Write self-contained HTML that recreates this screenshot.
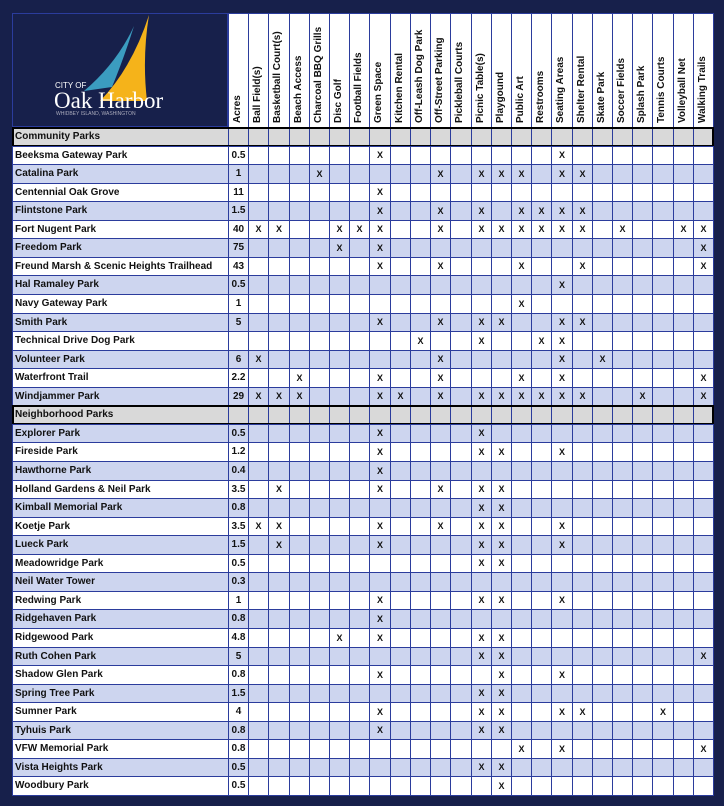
<!DOCTYPE html>
<html><head><meta charset="utf-8"><style>
body{margin:0;background:#17204b;width:724px;height:806px;overflow:hidden;position:relative;font-family:"Liberation Sans",sans-serif;}
.c{position:absolute;box-sizing:border-box;}
.t{position:absolute;font-weight:bold;font-size:10px;color:#111;white-space:nowrap;}
</style></head><body>
<div class="c" style="left:12px;top:13px;width:216px;height:114px;background:#17204b;border:1px solid #2b3c9c"></div>
<svg style="position:absolute;left:12px;top:13px" width="216" height="114">
<path d="M122 13 Q105 50 72 78 L100 74 Q112 45 122 13Z" fill="#3b9cc0"/>
<path d="M137 2 Q120 55 88 88 L135 88 Q130 45 137 2Z" fill="#f5b31a"/>
<text x="43" y="75" fill="#fff" font-family="Liberation Sans" font-size="8">CITY OF</text>
<text x="42" y="95" fill="#fff" font-family="Liberation Serif" font-size="23">Oak Harbor</text>
<text x="44" y="102" fill="#aab" font-family="Liberation Sans" font-size="5">WHIDBEY ISLAND, WASHINGTON</text>
</svg>
<div id="g"></div>
<script>
var cols=["Acres","Ball Field(s)","Basketball Court(s)","Beach Access","Charcoal BBQ Grills","Disc Golf","Football Fields","Green Space","Kitchen Rental","Off-Leash Dog Park","Off-Street Parking","Pickleball Courts","Picnic Table(s)","Playgound","Public Art","Restrooms","Seating Areas","Shelter Rental","Skate Park","Soccer Fields","Splash Park","Tennis Courts","Volleyball Net","Walking Trails"];
var rows=[["S","Community Parks"],
["Beeksma Gateway Park","0.5",[7,16]],["Catalina Park","1",[4,10,12,13,14,16,17]],["Centennial Oak Grove","11",[7]],
["Flintstone Park","1.5",[7,10,12,14,15,16,17]],["Fort Nugent Park","40",[1,2,5,6,7,10,12,13,14,15,16,17,19,22,23]],
["Freedom Park","75",[5,7,23]],["Freund Marsh & Scenic Heights Trailhead","43",[7,10,14,17,23]],["Hal Ramaley Park","0.5",[16]],
["Navy Gateway Park","1",[14]],["Smith Park","5",[7,10,12,13,16,17]],["Technical Drive Dog Park","",[9,12,15,16]],
["Volunteer Park","6",[1,10,16,18]],["Waterfront Trail","2.2",[3,7,10,14,16,23]],["Windjammer Park","29",[1,2,3,7,8,10,12,13,14,15,16,17,20,23]],
["S","Neighborhood Parks"],
["Explorer Park","0.5",[7,12]],["Fireside Park","1.2",[7,12,13,16]],["Hawthorne Park","0.4",[7]],["Holland Gardens & Neil Park","3.5",[2,7,10,12,13]],
["Kimball Memorial Park","0.8",[12,13]],["Koetje Park","3.5",[1,2,7,10,12,13,16]],["Lueck Park","1.5",[2,7,12,13,16]],["Meadowridge Park","0.5",[12,13]],
["Neil Water Tower","0.3",[]],["Redwing Park","1",[7,12,13,16]],["Ridgehaven Park","0.8",[7]],["Ridgewood Park","4.8",[5,7,12,13]],
["Ruth Cohen Park","5",[12,13,23]],["Shadow Glen Park","0.8",[7,13,16]],["Spring Tree Park","1.5",[12,13]],["Sumner Park","4",[7,12,13,16,17,21]],
["Tyhuis Park","0.8",[7,12,13]],["VFW Memorial Park","0.8",[14,16,23]],["Vista Heights Park","0.5",[12,13]],["Woodbury Park","0.5",[13]]];
var L=12,X0=228,R=713,cw=(R-X0)/24,T=13,HB=127,rh=(795-HB)/36,h="";
function cx(i){return Math.round(X0+i*cw);}
function w(i){return cx(i+1)-cx(i)+1;}
for(var i=0;i<24;i++){
 h+='<div class="c" style="left:'+cx(i)+'px;top:'+T+'px;width:'+w(i)+'px;height:'+(HB-T+1)+'px;background:#fff;border:1px solid #2b3c9c"></div>';
 h+='<div class="t" style="left:'+(cx(i)+3)+'px;top:'+(HB-4)+'px;transform:rotate(-90deg);transform-origin:0 0;line-height:14px">'+cols[i]+'</div>';
}
var blue=false;
for(var r=0;r<rows.length;r++){
 var y=Math.round(HB+r*rh),y2=Math.round(HB+(r+1)*rh),hh=y2-y+1,row=rows[r];
 if(row[0]=="S"){
  h+='<div class="c" style="left:'+L+'px;top:'+y+'px;width:'+(R-L+1)+'px;height:'+hh+'px;background:#d9d9d9"></div>';
  for(var i=0;i<24;i++)h+='<div class="c" style="left:'+cx(i)+'px;top:'+y+'px;width:'+w(i)+'px;height:'+hh+'px;border:1px solid #2b3c9c"></div>';
  h+='<div class="c" style="left:'+L+'px;top:'+y+'px;width:'+(R-L+1)+'px;height:'+hh+'px;border:2.5px solid #000"></div>';
  h+='<div class="t" style="left:15px;top:'+(y+4)+'px">'+row[1]+'</div>';
  blue=(r>5);
  continue;
 }
 var bg=blue?'#cdd5ef':'#fff';blue=!blue;
 h+='<div class="c" style="left:'+L+'px;top:'+y+'px;width:'+(X0-L+1)+'px;height:'+hh+'px;background:'+bg+';border:1px solid #2b3c9c"></div>';
 h+='<div class="t" style="left:15px;top:'+(y+4)+'px">'+row[0].replace("&","&amp;")+'</div>';
 for(var i=0;i<24;i++){
  h+='<div class="c" style="left:'+cx(i)+'px;top:'+y+'px;width:'+w(i)+'px;height:'+hh+'px;background:'+bg+';border:1px solid #2b3c9c;text-align:center;font-weight:bold;font-size:'+(i?9:10)+'px;line-height:'+(hh-2)+'px;color:#111">'+(i==0?row[1]:(row[2].indexOf(i)>=0?'X':''))+'</div>';
 }
}
document.getElementById("g").innerHTML=h;
</script>
</body></html>
